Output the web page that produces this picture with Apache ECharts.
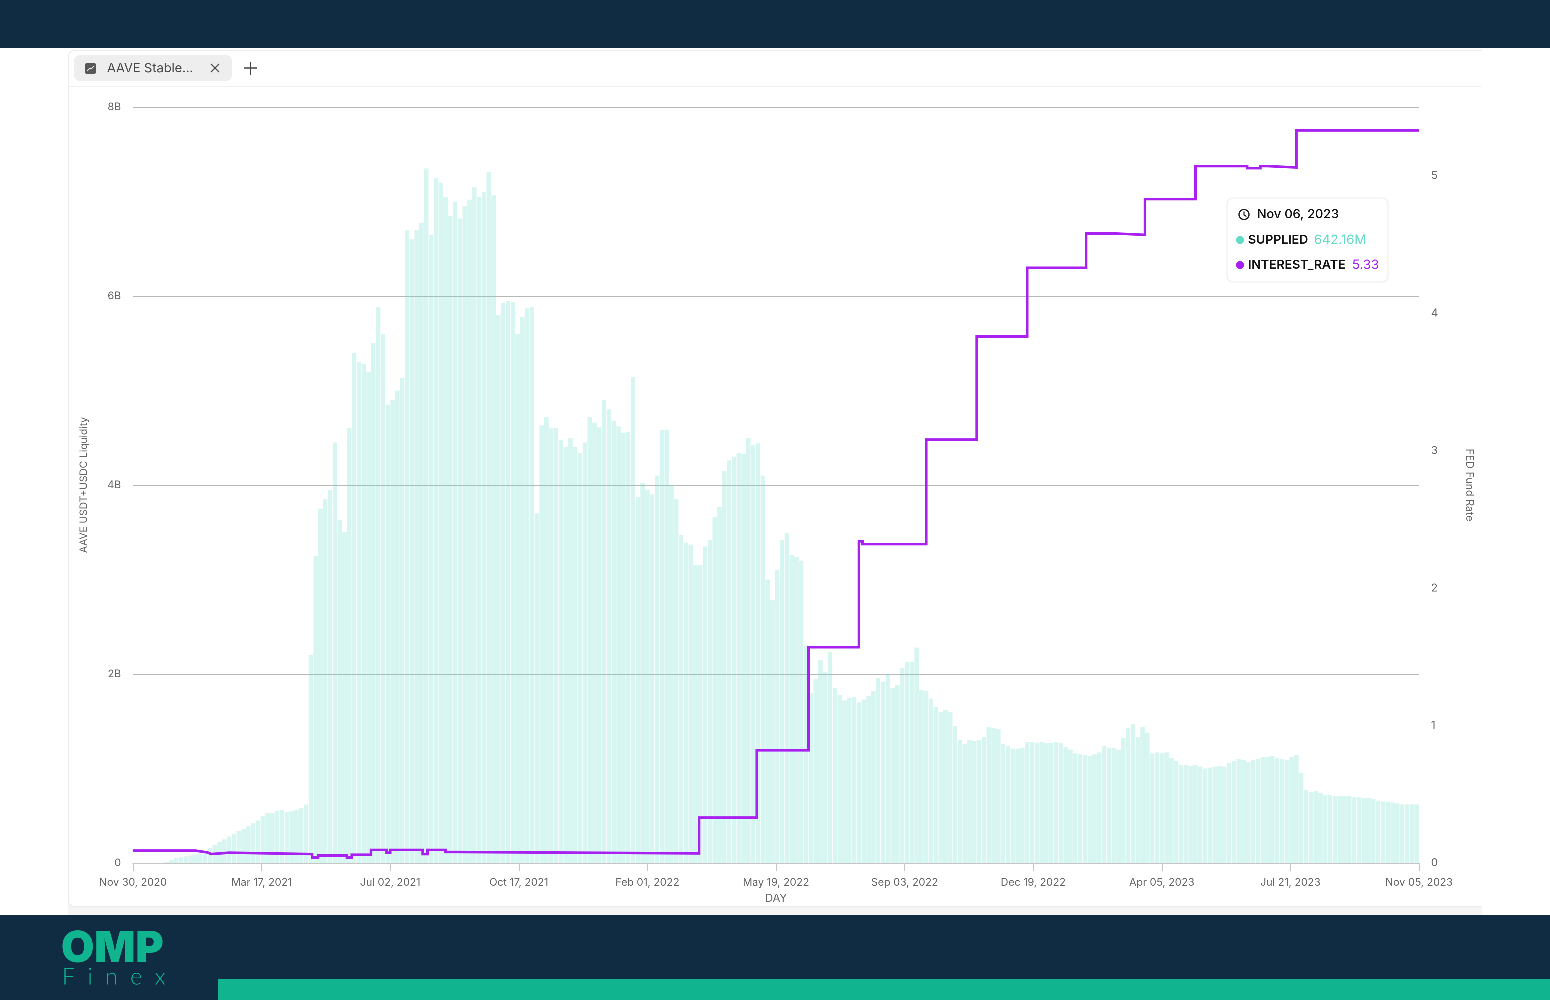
<!DOCTYPE html>
<html>
<head>
<meta charset="utf-8" />
<title>AAVE Stable Liquidity vs FED Fund Rate</title>
<script src="https://cdn.jsdelivr.net/npm/echarts@6/dist/echarts.min.js"></script>
<style>
  html, body { margin: 0; padding: 0; background: #fff; }
  #drawImg { width: 1550px; height: 1000px; }
</style>
</head>
<body>
<div id="drawImg"></div>
<script>
// x tick labels, one every 107 days from Nov 30, 2020
const tickLabels = ["Nov 30, 2020", "Mar 17, 2021", "Jul 02, 2021", "Oct 17, 2021", "Feb 01, 2022", "May 19, 2022",
  "Sep 03, 2022", "Dec 19, 2022", "Apr 05, 2023", "Jul 21, 2023", "Nov 05, 2023"];

// supplied liquidity in billions, one reading every 4 days
const sampleStepDays = 4;
const suppliedValues = [
  0, 0, 0, 0, 0, 0, 0, 0.01, 0.03, 0.05, 0.06, 0.07, 0.08, 0.09, 0.10, 0.12, 0.16, 0.19, 0.22, 0.25,
  0.28, 0.31, 0.34, 0.36, 0.39, 0.42, 0.45, 0.50, 0.53, 0.53, 0.55, 0.56, 0.54, 0.55, 0.56, 0.58, 0.62, 2.2, 3.25, 3.75,
  3.85, 3.95, 4.45, 3.63, 3.5, 4.6, 5.4, 5.3, 5.28, 5.2, 5.5, 5.88, 5.6, 4.85, 4.9, 5.0, 5.13, 6.7, 6.6, 6.7,
  6.77, 7.35, 6.65, 7.25, 7.2, 7.05, 6.85, 7.0, 6.82, 6.95, 7.02, 7.15, 7.05, 7.1, 7.31, 7.07, 5.8, 5.93, 5.95, 5.94,
  5.6, 5.78, 5.87, 5.88, 3.7, 4.63, 4.72, 4.6, 4.6, 4.48, 4.4, 4.5, 4.4, 4.34, 4.45, 4.72, 4.66, 4.61, 4.9, 4.8,
  4.68, 4.62, 4.55, 4.56, 5.14, 3.87, 4.02, 3.95, 3.9, 4.1, 4.58, 4.58, 4.0, 3.85, 3.47, 3.39, 3.37, 3.15, 3.15, 3.35,
  3.42, 3.66, 3.77, 4.15, 4.26, 4.3, 4.34, 4.33, 4.5, 4.42, 4.44, 4.1, 3.0, 2.78, 3.1, 3.42, 3.49, 3.26, 3.24, 3.2,
  2.3, 1.8, 1.95, 2.15, 2.02, 2.23, 1.85, 1.78, 1.72, 1.75, 1.76, 1.7, 1.73, 1.77, 1.82, 1.96, 1.92, 2.0, 1.85, 1.88,
  2.06, 2.13, 2.13, 2.28, 1.83, 1.82, 1.74, 1.65, 1.6, 1.62, 1.6, 1.45, 1.3, 1.26, 1.3, 1.29, 1.3, 1.33, 1.44, 1.43,
  1.42, 1.26, 1.24, 1.21, 1.21, 1.22, 1.28, 1.28, 1.27, 1.28, 1.27, 1.27, 1.28, 1.27, 1.23, 1.2, 1.16, 1.15, 1.14, 1.13,
  1.15, 1.17, 1.24, 1.22, 1.22, 1.2, 1.32, 1.43, 1.47, 1.33, 1.44, 1.38, 1.16, 1.17, 1.16, 1.17, 1.11, 1.08, 1.04, 1.04,
  1.03, 1.04, 1.02, 1.0, 1.01, 1.02, 1.03, 1.02, 1.06, 1.08, 1.1, 1.09, 1.07, 1.09, 1.1, 1.12, 1.12, 1.13, 1.11, 1.1,
  1.09, 1.12, 1.14, 0.95, 0.77, 0.75, 0.76, 0.74, 0.72, 0.72, 0.71, 0.71, 0.71, 0.71, 0.7, 0.7, 0.69, 0.69, 0.68, 0.66,
  0.65, 0.65, 0.64, 0.63, 0.62, 0.62, 0.62, 0.62
];

// FED fund rate: day the rate changes (days since Nov 30, 2020) and the rate from that day on
const rateDays = [0, 52, 62, 65, 80, 149, 154, 178, 182, 198, 211, 214, 241, 245, 260, 270, 471, 519, 562, 604, 607, 660, 702, 744, 793, 817, 842, 884, 927, 938, 944, 968, 1070];
const rateValues = [0.09, 0.077, 0.065, 0.075, 0.065, 0.04, 0.055, 0.04, 0.06, 0.095, 0.075, 0.095, 0.065, 0.095, 0.08, 0.07, 0.33, 0.82, 1.57, 2.34, 2.32, 3.08, 3.83, 4.33, 4.58, 4.57, 4.83, 5.07, 5.055, 5.07, 5.06, 5.33, 5.33];

const FONT = "Inter";
const TEAL = "#63DDC7";
const PURPLE = "#A921F0";
const NAVY = "#0F2C42";
const BRAND = "#10B48F";

function axisText(size) {
  return { fontFamily: FONT, fontSize: size, color: "#666666" };
}

// the rate holds until the next change, so each change gets a vertical riser
function rateSteps() {
  let pts = [];
  rateDays.forEach(function (day, i) {
    if (i > 0) {
      pts.push([day, rateValues[i - 1]]);
    }
    pts.push([day, rateValues[i]]);
  });
  return pts;
}

// page furniture: header, footer, card, tab and the pinned tooltip box
function buildGraphic() {
  const bg = [
    { type: "rect", z: -10, shape: { x: 68, y: 900, width: 1414, height: 15 }, style: { fill: "#f5f5f5" } },
    { type: "rect", z: -9, shape: { x: 68.5, y: 50.5, width: 1500, height: 856, r: 6 }, style: { fill: "#fff", stroke: "#ececec", lineWidth: 1 } },
    { type: "rect", z: -8, shape: { x: 1482, y: 48, width: 68, height: 867 }, style: { fill: "#fff" } },
    { type: "rect", z: -7, shape: { x: 0, y: 0, width: 1550, height: 48 }, style: { fill: NAVY } },
    { type: "rect", z: -7, shape: { x: 0, y: 915, width: 1550, height: 85 }, style: { fill: NAVY } },
    { type: "rect", z: -6, shape: { x: 218, y: 979, width: 1332, height: 21 }, style: { fill: BRAND } },
    { type: "line", z: -6, shape: { x1: 69, y1: 86.5, x2: 1482, y2: 86.5 }, style: { stroke: "#f0f0f0", lineWidth: 1 } },
  ];
  const tab = [
    { type: "rect", shape: { x: 74, y: 55, width: 158, height: 26, r: 6 }, style: { fill: "#eeeeee" } },
    { type: "rect", shape: { x: 85, y: 63, width: 11, height: 11, r: 2 }, style: { fill: "#585858" } },
    { type: "polyline", shape: { points: [[87, 71], [90, 68], [91, 69], [94, 66]] }, style: { stroke: "#eee", lineWidth: 1, fill: null } },
    { type: "text", style: { x: 107, y: 68.5, text: "AAVE Stable...", font: "12.8px " + FONT, fill: "#4a4a4a", verticalAlign: "middle" } },
    { type: "line", shape: { x1: 211, y1: 64, x2: 219, y2: 72 }, style: { stroke: "#444", lineWidth: 1.2 } },
    { type: "line", shape: { x1: 219, y1: 64, x2: 211, y2: 72 }, style: { stroke: "#444", lineWidth: 1.2 } },
    { type: "line", shape: { x1: 244, y1: 68, x2: 257, y2: 68 }, style: { stroke: "#444", lineWidth: 1.3 } },
    { type: "line", shape: { x1: 250.5, y1: 62, x2: 250.5, y2: 75 }, style: { stroke: "#444", lineWidth: 1.3 } },
  ];
  const logo = [
    { type: "text", style: { x: 61, y: 949, text: "OMP", font: "900 43px " + FONT, fill: BRAND, verticalAlign: "middle" } },
    { type: "text", style: { x: 62, y: 977, text: "F  i  n  e  x", font: "300 23px Lato", fill: BRAND, verticalAlign: "middle" } },
  ];
  const tip = [
    { type: "rect", z: 50, shape: { x: 1227, y: 198, width: 161, height: 84, r: 6 }, style: { fill: "#fff", stroke: "#eeeeee", lineWidth: 1 } },
    { type: "circle", z: 51, shape: { cx: 1244, cy: 214.5, r: 5 }, style: { fill: "#fff", stroke: "#222", lineWidth: 1.3 } },
    { type: "polyline", z: 51, shape: { points: [[1244, 211.5], [1244, 215], [1246.5, 216.5]] }, style: { stroke: "#222", lineWidth: 1.1, fill: null } },
    { type: "text", z: 51, style: { x: 1257, y: 214.5, text: "Nov 06, 2023", font: "500 12.6px " + FONT, fill: "#111", verticalAlign: "middle" } },
    { type: "circle", z: 51, shape: { cx: 1240, cy: 240, r: 4 }, style: { fill: TEAL } },
    { type: "text", z: 51, style: { x: 1248, y: 240, text: "SUPPLIED", font: "600 12.4px " + FONT, fill: "#111", verticalAlign: "middle" } },
    { type: "text", z: 51, style: { x: 1314, y: 240, text: "642.16M", font: "13px " + FONT, fill: TEAL, verticalAlign: "middle" } },
    { type: "circle", z: 51, shape: { cx: 1240, cy: 265, r: 4 }, style: { fill: PURPLE } },
    { type: "text", z: 51, style: { x: 1248, y: 265, text: "INTEREST_RATE", font: "600 12.4px " + FONT, fill: "#111", verticalAlign: "middle" } },
    { type: "text", z: 51, style: { x: 1352, y: 265, text: "5.33", font: "13px " + FONT, fill: PURPLE, verticalAlign: "middle" } },
  ];
  return bg.concat(tab, logo, tip);
}

const option = {
  animation: false,
  backgroundColor: "#fff",
  textStyle: { fontFamily: FONT },
  graphic: { elements: buildGraphic() },
  grid: { left: 133, right: 131, top: 107, bottom: 137 },
  xAxis: {
    type: "value",
    min: 0,
    max: 1070,
    interval: 107,
    name: "DAY",
    nameLocation: "middle",
    nameGap: 29,
    nameTextStyle: axisText(11),
    axisLine: { show: true, onZero: false, lineStyle: { color: "#c6c6c6", width: 1 } },
    axisTick: { show: true, length: 8, lineStyle: { color: "#c6c6c6" } },
    axisLabel: Object.assign(axisText(10.5), {
      margin: 14,
      showMinLabel: true,
      showMaxLabel: true,
      hideOverlap: false,
      formatter: (v) => tickLabels[Math.round(v / 107)],
    }),
    splitLine: { show: false },
  },
  yAxis: [
    {
      type: "value",
      min: 0,
      max: 8,
      interval: 2,
      name: "AAVE USDT+USDC Liquidity",
      nameLocation: "middle",
      nameGap: 44,
      nameRotate: 90,
      nameTextStyle: axisText(10.2),
      axisLine: { show: false },
      axisTick: { show: false },
      axisLabel: Object.assign(axisText(10.5), {
        margin: 12,
        padding: [3, 0, 0, 0],
        formatter: (v) => (v === 0 ? "0" : v + "B"),
      }),
      splitLine: { show: true, lineStyle: { color: "#b8b8b8", width: 1 } },
    },
    {
      type: "value",
      min: 0,
      max: 5.5,
      interval: 1,
      name: "FED Fund Rate",
      nameLocation: "middle",
      nameGap: 45,
      nameRotate: -90,
      nameTextStyle: axisText(10.5),
      axisLine: { show: false },
      axisTick: { show: false },
      axisLabel: Object.assign(axisText(11), { margin: 12, showMaxLabel: false }),
      splitLine: { show: false },
    },
  ],
  series: [
    {
      name: "SUPPLIED",
      type: "bar",
      yAxisIndex: 0,
      barWidth: 4.4,
      itemStyle: { color: TEAL, opacity: 0.26 },
      data: suppliedValues.map((v, i) => [i * sampleStepDays, v]),
    },
    {
      name: "INTEREST_RATE",
      type: "line",
      yAxisIndex: 1,
      symbol: "none",
      z: 5,
      lineStyle: { color: PURPLE, width: 2.6, join: "miter" },
      data: rateSteps(),
    },
  ],
};

// polyline drops segments under 2 device pixels; a higher ratio keeps the small rate steps
const getchart = echarts.init(document.getElementById("drawImg"), null, { renderer: "canvas", devicePixelRatio: 4 });
getchart.setOption(option);
</script>
</body>
</html>
